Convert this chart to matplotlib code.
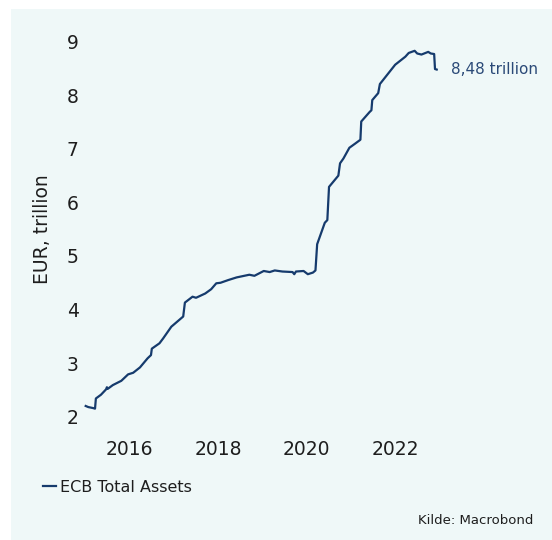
import matplotlib
matplotlib.use("Agg")
import matplotlib.pyplot as plt
from matplotlib.patches import Rectangle
import pandas as pd

# ECB total assets, EUR trillion (weekly observations, sampled)
dates = [
    "2015-01-02", "2015-01-23", "2015-03-06", "2015-03-20", "2015-03-27",
    "2015-05-08", "2015-06-19", "2015-06-26", "2015-07-03", "2015-08-14",
    "2015-10-23", "2015-12-18", "2016-01-29", "2016-03-25", "2016-05-27",
    "2016-06-24", "2016-07-01", "2016-09-02", "2016-10-02", "2016-12-09",
    "2017-03-17", "2017-03-31", "2017-06-02", "2017-07-01", "2017-09-15",
    "2017-11-03", "2017-12-15", "2018-01-19", "2018-03-23", "2018-06-01",
    "2018-09-14", "2018-10-26", "2019-01-11", "2019-03-01", "2019-04-12",
    "2019-06-14", "2019-09-06", "2019-09-20", "2019-10-04", "2019-12-06",
    "2020-01-10", "2020-02-21", "2020-03-13", "2020-03-27", "2020-05-29",
    "2020-06-19", "2020-07-03", "2020-09-18", "2020-10-02", "2020-10-30",
    "2020-12-18", "2021-02-05", "2021-03-19", "2021-03-26", "2021-06-04",
    "2021-06-18", "2021-06-25", "2021-08-13", "2021-08-27", "2021-11-05",
    "2021-12-31", "2022-02-25", "2022-03-25", "2022-04-22", "2022-06-10",
    "2022-07-01", "2022-08-05", "2022-09-30", "2022-10-21", "2022-11-18",
    "2022-11-25", "2022-12-09",
]
total_assets = [
    2.20, 2.18, 2.16, 2.15, 2.34,
    2.41, 2.51, 2.55, 2.52, 2.59,
    2.67, 2.79, 2.82, 2.92, 3.09,
    3.15, 3.27, 3.37, 3.46, 3.68,
    3.87, 4.13, 4.24, 4.22, 4.30,
    4.38, 4.49, 4.50, 4.55, 4.60,
    4.65, 4.63, 4.72, 4.70, 4.73,
    4.71, 4.70, 4.66, 4.71, 4.72,
    4.66, 4.69, 4.73, 5.22, 5.62,
    5.67, 6.29, 6.50, 6.73, 6.82,
    7.02, 7.10, 7.17, 7.51, 7.69,
    7.72, 7.91, 8.04, 8.21, 8.41,
    8.57, 8.67, 8.72, 8.79, 8.83,
    8.78, 8.76, 8.81, 8.78, 8.77,
    8.49, 8.48,
]
series_name = "ECB Total Assets"
year_ticks = ["2016", "2018", "2020", "2022"]
value_ticks = [2, 3, 4, 5, 6, 7, 8, 9]

x = pd.to_datetime(dates)

W, H = 552, 540
PANEL = "#eff8f8"
NAVY = "#163b6d"
TEXT = "#1e1e1e"

plt.rcParams["font.family"] = ["DejaVu Sans"]

fig = plt.figure(figsize=(W / 100, H / 100), dpi=100, facecolor="white")
fig.patches.append(Rectangle((11 / W, 0), 1 - 11 / W, 1 - 9 / H,
                             transform=fig.transFigure, facecolor=PANEL,
                             edgecolor="none", zorder=-10))

left, right = 85.7, 436.7
top, bottom = 41.7, 416.7
ax = fig.add_axes([left / W, 1 - bottom / H, (right - left) / W, (bottom - top) / H])
ax.set_facecolor("none")

ax.plot(x, total_assets, color=NAVY, lw=1.6, solid_joinstyle="round",
        label=series_name, clip_on=False)

ax.set_xlim(x[0], x[-1])
ax.set_ylim(value_ticks[0], value_ticks[-1])
ax.set_yticks(value_ticks)
ax.set_yticklabels([str(v) for v in value_ticks])
ax.set_xticks([pd.Timestamp(f"{y}-01-01") for y in year_ticks])
ax.set_xticklabels(year_ticks)

for s in ax.spines.values():
    s.set_visible(False)
ax.tick_params(axis="both", length=0, labelsize=13.5, colors=TEXT)
ax.tick_params(axis="x", pad=17)
ax.tick_params(axis="y", pad=5)

ax.set_ylabel("EUR, trillion", fontsize=13.5, color=TEXT)
ax.yaxis.set_label_coords(-(left - 52) / (right - left), 0.5)

last = total_assets[-1]
ax.annotate(f"{last:.2f}".replace(".", ",") + " trillion",
            xy=(x[-1], last), xytext=(10, 0), textcoords="offset points",
            va="center", ha="left", fontsize=11, color="#2b4a78",
            annotation_clip=False)

fig.legend(loc="center left", bbox_to_anchor=(43 / W, 1 - 487 / H),
           frameon=False, fontsize=11.5, handlelength=0.8,
           handletextpad=0.25, borderpad=0, borderaxespad=0,
           labelcolor=TEXT)

fig.text(533 / W, 1 - 520 / H, "Kilde: Macrobond", ha="right", va="center",
         fontsize=9.5, color=TEXT)

fig.savefig("out.png", dpi=100, facecolor="white")
